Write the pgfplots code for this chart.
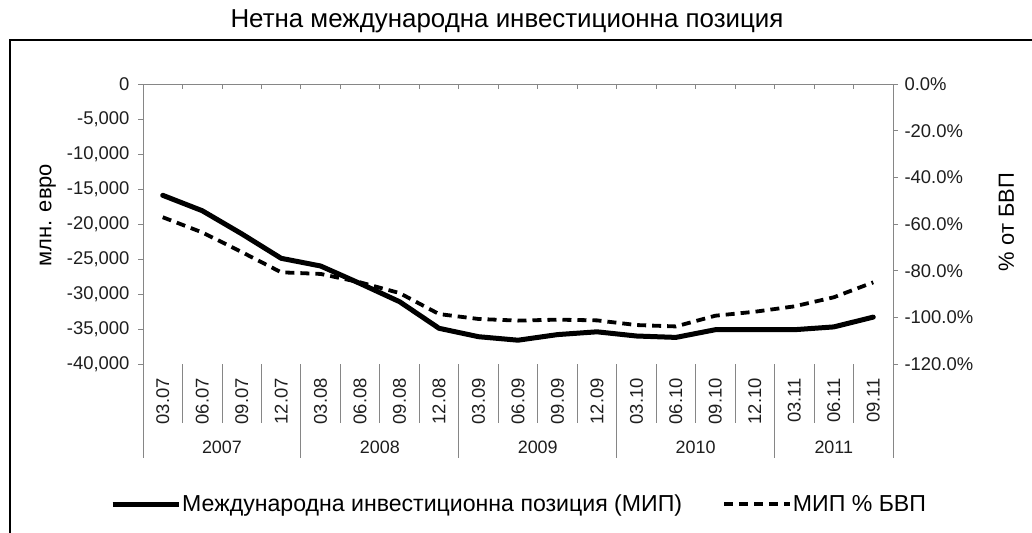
\documentclass[border=0pt]{standalone}
\usepackage{fontspec}
\setmainfont{Liberation Sans}
\usepackage{pgfplots}
\usepackage{pgfplotstable}
\pgfplotsset{compat=1.18}
\definecolor{axisgray}{RGB}{134,134,134}
\definecolor{txt}{RGB}{30,30,30}

\pgfplotstableread{
x mip pct
0 -15900 -57.1
1 -18100 -63.6
2 -21400 -72.0
3 -24900 -80.7
4 -26000 -81.4
5 -28500 -85.0
6 -31100 -89.6
7 -34900 -98.6
8 -36100 -100.7
9 -36600 -101.4
10 -35800 -101.0
11 -35400 -101.3
12 -36000 -103.3
13 -36200 -103.9
14 -35100 -99.3
15 -35100 -97.6
16 -35100 -95.3
17 -34700 -91.4
18 -33300 -85.0
}\datatable

\begin{document}
\begin{tikzpicture}
\useasboundingbox (0bp,0bp) rectangle (1032bp,-533bp);
\fill[white] (0bp,0bp) rectangle (1032bp,-533bp);
\draw[line width=1.6bp] (10bp,-540bp) -- (10bp,-40bp) -- (1040bp,-40bp);
\node[font=\fontsize{26}{30}\selectfont] at (507bp,-21bp) {Нетна международна инвестиционна позиция};

\begin{axis}[
  at={(143bp,-364bp)}, anchor=south west,
  scale only axis, width=750bp, height=280bp,
  xmin=-0.5, xmax=18.5, ymin=-40000, ymax=0,
  axis x line*=bottom, axis y line*=left,
  x axis line style={draw=none},
  y axis line style={axisgray, line width=0.8bp},
  xtick={0,...,18},
  xticklabels={03.07,06.07,09.07,12.07,03.08,06.08,09.08,12.08,03.09,06.09,09.09,12.09,03.10,06.10,09.10,12.10,03.11,06.11,09.11},
  xtick style={draw=none},
  xticklabel style={font=\fontsize{18.5}{22}\selectfont, text=txt, yshift=-9bp, rotate=90, anchor=east, inner sep=0pt},
  ytick={-40000,-35000,...,0},
  scaled y ticks=false,
  ytick style={axisgray, line width=0.8bp},
  tick align=outside, major tick length=5bp,
  yticklabel style={font=\fontsize{18.5}{22}\selectfont, text=txt, xshift=-5bp},
  /pgf/number format/.cd, 1000 sep={,}, assume math mode=true,
  /pgfplots/.cd,
  ylabel={млн. евро},
  ylabel style={font=\fontsize{22}{26}\selectfont, at={(rel axis cs:-0.127,0.532)}, anchor=center},
  clip=false,
]
\addplot[black, line width=5bp, line join=round, line cap=round] table[x=x, y=mip] {\datatable};
\draw[axisgray, line width=0.8bp] (axis cs:-0.5,0) -- (axis cs:18.5,0);
\pgfplotsinvokeforeach{0.5,1.5,...,17.5}{
  \draw[axisgray, line width=0.8bp] (axis cs:#1,0) -- ++(0bp,-5bp);
  \draw[axisgray, line width=0.8bp] (axis cs:#1,-40000) -- ++(0bp,-59bp);
}
\pgfplotsinvokeforeach{-0.5,3.5,7.5,11.5,15.5,18.5}{
  \draw[axisgray, line width=0.8bp] (axis cs:#1,-40000) -- ++(0bp,-94bp);
}
\node[font=\fontsize{18}{21}\selectfont, text=txt] at ([yshift=-83bp]axis cs:1.5,-40000) {2007};
\node[font=\fontsize{18}{21}\selectfont, text=txt] at ([yshift=-83bp]axis cs:5.5,-40000) {2008};
\node[font=\fontsize{18}{21}\selectfont, text=txt] at ([yshift=-83bp]axis cs:9.5,-40000) {2009};
\node[font=\fontsize{18}{21}\selectfont, text=txt] at ([yshift=-83bp]axis cs:13.5,-40000) {2010};
\node[font=\fontsize{18}{21}\selectfont, text=txt] at ([yshift=-83bp]axis cs:17,-40000) {2011};
\end{axis}

\begin{axis}[
  at={(143bp,-364bp)}, anchor=south west,
  scale only axis, width=750bp, height=280bp,
  xmin=-0.5, xmax=18.5, ymin=-120, ymax=0,
  axis x line=none, axis y line*=right,
  y axis line style={axisgray, line width=0.8bp},
  ytick={-120,-100,...,0},
  ytick style={axisgray, line width=0.8bp},
  tick align=outside, major tick length=5bp,
  yticklabel style={font=\fontsize{18.5}{22}\selectfont, text=txt, xshift=3bp},
  yticklabel={\pgfmathprintnumber[fixed,fixed zerofill,precision=1,assume math mode=true]{\tick}\%},
  ylabel={\% от БВП},
  ylabel style={font=\fontsize{22}{26}\selectfont, at={(rel axis cs:1.151,0.507)}, anchor=center},
  clip=false,
  legend style={draw=none, fill=none, at={(rel axis cs:-0.044,-0.5)}, anchor=west,
    font=\fontsize{23.2}{27}\selectfont, legend columns=2, inner sep=0pt,
    nodes={inner sep=1bp},
    /tikz/every even column/.append style={column sep=39bp}},
  legend image code/.code={\draw[#1] (0bp,0bp) -- (66bp,0bp);},
]
\addlegendimage{black, line width=5bp}
\addlegendentry{Международна инвестиционна позиция (МИП)}
\addplot[black, line width=3.8bp, dash pattern=on 9bp off 6bp, line join=round] table[x=x, y=pct] {\datatable};
\addlegendentry{МИП \% БВП}
\end{axis}
\end{tikzpicture}
\end{document}
